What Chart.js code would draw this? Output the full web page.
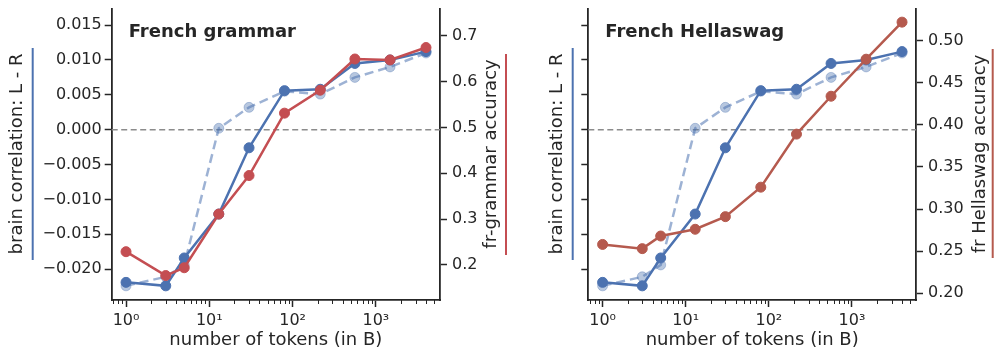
<!DOCTYPE html>
<html>
<head>
<meta charset="utf-8">
<script src="https://cdn.jsdelivr.net/npm/chart.js@4/dist/chart.umd.min.js"></script>
<style>
    html, body { margin: 0; padding: 0; background: #fff; }
    #wrap { position: relative; width: 997px; height: 361px; overflow: hidden; }
    canvas { position: absolute; top: 0; }
    #grammarChart { left: 0; }
    #hellaswagChart { left: 530px; }
</style>
</head>
<body>
<div id="wrap">
    <canvas id="grammarChart" width="530" height="361"></canvas>
    <canvas id="hellaswagChart" width="467" height="361"></canvas>
</div>
<script>
// ================================================
// DATA
// ================================================

// number of training tokens (in B) for each checkpoint
const tokens = [1, 3, 5, 13, 30, 80, 215, 560, 1480, 4000];

// brain correlation L - R (solid) and the faded dashed variant
const brainLR    = [-0.0219, -0.0224, -0.0184, -0.0121, -0.0026, 0.0056, 0.0058, 0.0095, 0.0100, 0.0112];
const brainLRAlt = [-0.0224, -0.0211, -0.0194, 0.0002, 0.0032, 0.0055, 0.0051, 0.0075, 0.0090, 0.0110];

// benchmark accuracies (right axes)
const frGrammarAcc   = [0.229, 0.177, 0.194, 0.311, 0.395, 0.531, 0.581, 0.649, 0.647, 0.674];
const frHellaswagAcc = [0.258, 0.253, 0.268, 0.276, 0.291, 0.326, 0.389, 0.434, 0.478, 0.522];

// tick labels
const xMajorTicks     = [1, 10, 100, 1000];
const corrTicks       = [-0.020, -0.015, -0.010, -0.005, 0.000, 0.005, 0.010, 0.015];
const grammarTicks    = [0.2, 0.3, 0.4, 0.5, 0.6, 0.7];
const hellaswagTicks  = [0.20, 0.25, 0.30, 0.35, 0.40, 0.45, 0.50];

// ================================================
// STYLE
// ================================================

const INK = '#262626';
const BLUE = '#4c72b0';
const BLUE_FADED = 'rgba(76, 114, 176, 0.6)';
const FONT = "'DejaVu Sans', sans-serif";
const SUP = { '0': '\u2070', '1': '\u00b9', '2': '\u00b2', '3': '\u00b3' };

function isPow10(v) {
    const e = Math.log10(v);
    return Math.abs(e - Math.round(e)) < 1e-9;
}

function isNiceLog(v) {
    const p = Math.pow(10, Math.floor(Math.log10(v)));
    const s = v / p;
    return Math.abs(s - Math.round(s)) < 1e-6;
}

function fmtMinus(s) {
    return s.replace('-', '\u2212');
}

// no label overflow padding: chart area is set by the fixed axis sizes
function noPad(s) {
    s.paddingTop = 0;
    s.paddingBottom = 0;
    s.paddingLeft = 0;
    s.paddingRight = 0;
}

// ================================================
// PLUGINS
// ================================================

// dashed zero line + minor ticks on the log axis
const guidePlugin = {
    id: 'guides',
    beforeDatasetsDraw(chart) {
        const { ctx, chartArea } = chart;
        const y = chart.scales.y.getPixelForValue(0);
        ctx.save();
        ctx.strokeStyle = '#8c8c8c';
        ctx.lineWidth = 1.5;
        ctx.setLineDash([6, 3.5]);
        ctx.beginPath();
        ctx.moveTo(chartArea.left, y);
        ctx.lineTo(chartArea.right, y);
        ctx.stroke();
        ctx.restore();
    },
    afterDraw(chart) {
        const { ctx, chartArea } = chart;
        const xs = chart.scales.x;
        ctx.save();
        ctx.strokeStyle = INK;
        ctx.lineWidth = 1;
        xs.ticks.forEach(t => {
            if (isPow10(t.value) || !isNiceLog(t.value)) return;
            if (t.value <= xs.min || t.value >= xs.max) return;
            const x = Math.round(xs.getPixelForValue(t.value)) + 0.5;
            ctx.beginPath();
            ctx.moveTo(x, chartArea.bottom);
            ctx.lineTo(x, chartArea.bottom + 4);
            ctx.stroke();
        });
        ctx.restore();
    }
};

// panel title, axis titles and the coloured bars beside them
const annotPlugin = {
    id: 'annot',
    afterDraw(chart, args, opts) {
        const { ctx, chartArea } = chart;
        ctx.save();
        ctx.fillStyle = INK;

        ctx.font = 'bold 18px ' + FONT;
        ctx.textAlign = 'left';
        ctx.textBaseline = 'alphabetic';
        ctx.fillText(opts.title, chartArea.left + 17, 37);

        ctx.font = '18px ' + FONT;
        ctx.textAlign = 'center';
        ctx.fillText('number of tokens (in B)', (chartArea.left + chartArea.right) / 2, 345);

        ctx.textBaseline = 'middle';
        [opts.leftLabel, opts.rightLabel].forEach(lab => {
            ctx.save();
            ctx.translate(lab.x, 154);
            ctx.rotate(-Math.PI / 2);
            ctx.fillText(lab.text, 0, 0);
            ctx.restore();

            ctx.strokeStyle = lab.color;
            ctx.lineWidth = 2;
            ctx.beginPath();
            ctx.moveTo(lab.barX, lab.barTop);
            ctx.lineTo(lab.barX, lab.barBottom);
            ctx.stroke();
        });
        ctx.restore();
    }
};

// ================================================
// CHARTS
// ================================================

function lineSet(label, data, color, axis, dashed) {
    return {
        label: label,
        data: tokens.map((t, i) => ({ x: t, y: data[i] })),
        yAxisID: axis,
        borderColor: dashed ? 'rgba(76, 114, 176, 0.55)' : color,
        backgroundColor: dashed ? 'rgba(76, 114, 176, 0.4)' : color,
        pointBorderColor: dashed ? 'rgba(76, 114, 176, 0.35)' : color,
        borderWidth: 2.5,
        borderDash: dashed ? [9, 5] : [],
        pointRadius: 5,
        pointBorderWidth: 1,
        tension: 0,
        clip: false
    };
}

function makePanel(canvasId, p) {
    const ctx = document.getElementById(canvasId);
    return new Chart(ctx, {
        type: 'line',
        data: {
            datasets: [
                lineSet(p.accLabel, p.acc, p.accColor, 'y2', false),
                lineSet('brain L - R', brainLR, BLUE, 'y', false),
                lineSet('brain L - R (alt)', brainLRAlt, BLUE_FADED, 'y', true)
            ]
        },
        options: {
            responsive: false,
            animation: false,
            devicePixelRatio: 1,
            layout: { padding: { top: 9, left: 0, right: 0, bottom: 0 } },
            plugins: {
                legend: { display: false },
                tooltip: { enabled: false },
                annot: p.annot
            },
            scales: {
                x: {
                    type: 'logarithmic',
                    min: 0.673,
                    max: 5890,
                    afterFit(s) { s.height = 61; noPad(s); },
                    grid: {
                        drawOnChartArea: false,
                        tickLength: 7,
                        tickWidth: 1.5,
                        tickColor: c => (c.tick && isPow10(c.tick.value) ? INK : 'rgba(0,0,0,0)')
                    },
                    border: { color: INK, width: 1.8 },
                    ticks: {
                        autoSkip: false,
                        maxRotation: 0,
                        padding: 4,
                        color: INK,
                        font: { family: FONT, size: 16 },
                        callback: function(v) {
                            if (!xMajorTicks.some(m => Math.abs(m - v) < 1e-9)) return '';
                            return '10' + SUP[String(Math.round(Math.log10(v)))];
                        }
                    }
                },
                y: {
                    position: 'left',
                    min: -0.02443,
                    max: 0.01731,
                    afterFit(s) { s.width = p.leftWidth; noPad(s); },
                    afterBuildTicks(s) { s.ticks = corrTicks.map(v => ({ value: v })); },
                    grid: { drawOnChartArea: false, tickLength: 7, tickWidth: 1.5, tickColor: INK },
                    border: { color: INK, width: 1.8 },
                    ticks: {
                        padding: 3,
                        color: INK,
                        font: { family: FONT, size: 16 },
                        callback: v => (p.showLeftTicks ? fmtMinus(v.toFixed(3)) : '')
                    }
                },
                y2: {
                    position: 'right',
                    min: p.accMin,
                    max: p.accMax,
                    afterFit(s) { s.width = p.rightWidth; noPad(s); },
                    afterBuildTicks(s) { s.ticks = p.accTicks.map(v => ({ value: v })); },
                    grid: { drawOnChartArea: false, tickLength: 7, tickWidth: 1.5, tickColor: INK },
                    border: { color: INK, width: 1.8 },
                    ticks: {
                        padding: 5,
                        color: INK,
                        font: { family: FONT, size: 16 },
                        callback: v => v.toFixed(p.accDigits)
                    }
                }
            }
        },
        plugins: [guidePlugin, annotPlugin]
    });
}

document.addEventListener('DOMContentLoaded', function() {
    makePanel('grammarChart', {
        acc: frGrammarAcc,
        accLabel: 'fr-grammar accuracy',
        accColor: '#c44e52',
        accMin: 0.1237,
        accMax: 0.758,
        accTicks: grammarTicks,
        accDigits: 1,
        leftWidth: 111.7,
        rightWidth: 90,
        showLeftTicks: true,
        annot: {
            title: 'French grammar',
            leftLabel: { text: 'brain correlation: L - R', x: 17.5, barX: 32.7, barTop: 48, barBottom: 260, color: BLUE },
            rightLabel: { text: 'fr-grammar accuracy', x: 491.7, barX: 506, barTop: 54, barBottom: 255, color: '#c44e52' }
        }
    });

    makePanel('hellaswagChart', {
        acc: frHellaswagAcc,
        accLabel: 'fr Hellaswag accuracy',
        accColor: '#b55a4e',
        accMin: 0.192,
        accMax: 0.5376,
        accTicks: hellaswagTicks,
        accDigits: 2,
        leftWidth: 58.3,
        rightWidth: 81,
        showLeftTicks: false,
        annot: {
            title: 'French Hellaswag',
            leftLabel: { text: 'brain correlation: L - R', x: 27.5, barX: 42.7, barTop: 48, barBottom: 260, color: BLUE },
            rightLabel: { text: 'fr Hellaswag accuracy', x: 450, barX: 462.7, barTop: 49, barBottom: 258, color: '#b55a4e' }
        }
    });
});
</script>
</body>
</html>
